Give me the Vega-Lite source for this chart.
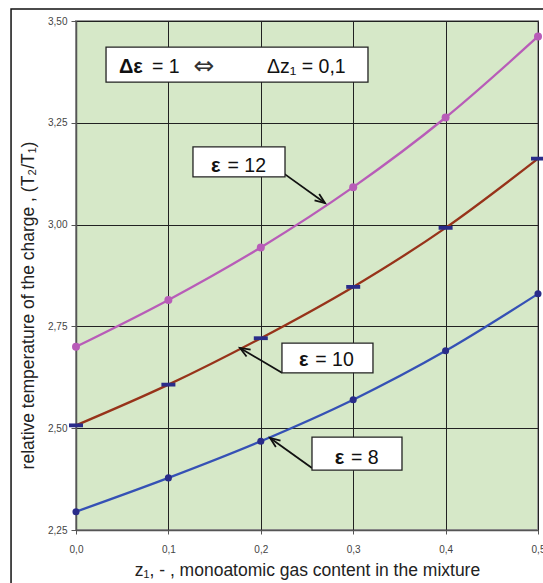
{
  "$schema": "https://vega.github.io/schema/vega-lite/v6.json",
  "width": 462,
  "height": 509,
  "autosize": {"type": "none"},
  "padding": {"left": 76, "top": 21, "right": 5, "bottom": 53},
  "background": "white",
  "config": {
    "font": "Liberation Sans",
    "view": {"fill": "#D6E8C8", "stroke": "#999999", "strokeWidth": 2}
  },
  "datasets": {
    "series": [
      {"z": 0.0, "T": 2.700, "eps": "12"},
      {"z": 0.1, "T": 2.815, "eps": "12"},
      {"z": 0.2, "T": 2.944, "eps": "12"},
      {"z": 0.3, "T": 3.092, "eps": "12"},
      {"z": 0.4, "T": 3.263, "eps": "12"},
      {"z": 0.5, "T": 3.462, "eps": "12"},
      {"z": 0.0, "T": 2.507, "eps": "10"},
      {"z": 0.1, "T": 2.607, "eps": "10"},
      {"z": 0.2, "T": 2.721, "eps": "10"},
      {"z": 0.3, "T": 2.847, "eps": "10"},
      {"z": 0.4, "T": 2.992, "eps": "10"},
      {"z": 0.5, "T": 3.162, "eps": "10"},
      {"z": 0.0, "T": 2.295, "eps": "8"},
      {"z": 0.1, "T": 2.378, "eps": "8"},
      {"z": 0.2, "T": 2.468, "eps": "8"},
      {"z": 0.3, "T": 2.570, "eps": "8"},
      {"z": 0.4, "T": 2.690, "eps": "8"},
      {"z": 0.5, "T": 2.830, "eps": "8"}
    ],
    "boxes": [
      {"x": 0.0325, "x2": 0.316, "y": 3.436, "y2": 3.350},
      {"x": 0.1266, "x2": 0.2262, "y": 3.191, "y2": 3.117},
      {"x": 0.2229, "x2": 0.3214, "y": 2.709, "y2": 2.636},
      {"x": 0.2554, "x2": 0.3528, "y": 2.478, "y2": 2.397}
    ],
    "boldText": [
      {"x": 0.0465, "y": 3.372, "text": "Δε"},
      {"x": 0.1461, "y": 3.129, "text": "ε"},
      {"x": 0.2413, "y": 2.6527, "text": "ε"},
      {"x": 0.2799, "y": 2.412, "text": "ε"}
    ],
    "plainText": [
      {"x": 0.0823, "y": 3.372, "text": "= 1"},
      {"x": 0.2067, "y": 3.372, "text": "Δz₁ = 0,1"},
      {"x": 0.1640, "y": 3.129, "text": "= 12"},
      {"x": 0.2590, "y": 2.6527, "text": "= 10"},
      {"x": 0.2975, "y": 2.412, "text": "= 8"}
    ],
    "symbolText": [
      {"x": 0.1385, "y": 3.372, "text": "⇔"}
    ],
    "arrows": [
      {"label": "12", "x": 0.224, "y": 3.127, "x2": 0.2695, "y2": 3.053},
      {"label": "10", "x": 0.2229, "y": 2.636, "x2": 0.1775, "y2": 2.697},
      {"label": "8", "x": 0.2554, "y": 2.402, "x2": 0.21, "y2": 2.476}
    ],
    "frame": [
      {"x": -0.0703, "x2": 0.6, "y": 3.5295, "y2": 2.0}
    ]
  },
  "layer": [
    {
      "data": {"name": "frame"},
      "mark": {"type": "rect", "fill": null, "fillOpacity": 0, "stroke": "#111111", "strokeWidth": 1.5, "clip": false},
      "encoding": {
        "x": {"field": "x", "type": "quantitative",
          "scale": {"domain": [0, 0.5], "nice": false, "zero": false},
          "axis": {
            "values": [0, 0.1, 0.2, 0.3, 0.4, 0.5],
            "labelExpr": "replace(format(datum.value, '.1f'), '.', ',')",
            "title": "z₁, - ,  monoatomic gas content in the mixture",
            "titleFont": "Liberation Sans", "titleFontSize": 17.5, "titleFontWeight": "normal", "titleColor": "#222222",
            "titleY": 45, "titleBaseline": "alphabetic",
            "labelFontSize": 10, "labelColor": "#444444", "labelPadding": 10, "labelFlush": false,
            "tickSize": 4, "tickColor": "#555555",
            "domainColor": "#555555", "domainWidth": 1.5,
            "grid": true, "gridColor": "#222222", "gridWidth": 1
          }},
        "x2": {"field": "x2"},
        "y": {"field": "y", "type": "quantitative",
          "scale": {"domain": [2.25, 3.5], "nice": false, "zero": false},
          "axis": {
            "values": [2.25, 2.5, 2.75, 3.0, 3.25, 3.5],
            "labelExpr": "replace(format(datum.value, '.2f'), '.', ',')",
            "title": "relative temperature  of the charge ,  (T₂/T₁)",
            "titleFont": "Liberation Sans", "titleFontSize": 17.5, "titleFontWeight": "normal", "titleColor": "#222222",
            "titleX": -48, "titleY": 284, "titleBaseline": "middle", "titleAlign": "center", "titleAngle": -90,
            "labelFontSize": 10, "labelColor": "#444444", "labelPadding": 4, "labelFlush": false,
            "tickSize": 5, "tickColor": "#555555",
            "domainColor": "#555555", "domainWidth": 1.5,
            "grid": true, "gridColor": "#222222", "gridWidth": 1
          }},
        "y2": {"field": "y2"}
      }
    },
    {
      "data": {"name": "series"},
      "mark": {"type": "line", "interpolate": "monotone", "strokeWidth": 2.3},
      "encoding": {
        "x": {"field": "z", "type": "quantitative"},
        "y": {"field": "T", "type": "quantitative"},
        "color": {"field": "eps", "type": "nominal",
          "scale": {"domain": ["8", "10", "12"], "range": ["#3551B5", "#97331A", "#B85CB8"]},
          "legend": null}
      }
    },
    {
      "data": {"name": "series"},
      "transform": [{"filter": "datum.eps == '12'"}],
      "mark": {"type": "point", "filled": true, "size": 64, "opacity": 1, "color": "#B85CB8"},
      "encoding": {
        "x": {"field": "z", "type": "quantitative"},
        "y": {"field": "T", "type": "quantitative"}
      }
    },
    {
      "data": {"name": "series"},
      "transform": [{"filter": "datum.eps == '8'"}],
      "mark": {"type": "point", "filled": true, "size": 50, "opacity": 1, "color": "#2A2C8A"},
      "encoding": {
        "x": {"field": "z", "type": "quantitative"},
        "y": {"field": "T", "type": "quantitative"}
      }
    },
    {
      "data": {"name": "series"},
      "transform": [{"filter": "datum.eps == '10'"}],
      "mark": {"type": "point", "filled": true, "size": 196, "opacity": 1, "color": "#2A2C8A",
        "shape": "M-1,-0.27H1V0.27H-1Z"},
      "encoding": {
        "x": {"field": "z", "type": "quantitative"},
        "y": {"field": "T", "type": "quantitative"}
      }
    },
    {
      "data": {"name": "arrows"},
      "mark": {"type": "rule", "color": "#111111", "strokeWidth": 1.8},
      "encoding": {
        "x": {"field": "x", "type": "quantitative"},
        "y": {"field": "y", "type": "quantitative"},
        "x2": {"field": "x2"},
        "y2": {"field": "y2"}
      }
    },
    {
      "data": {"name": "arrows"},
      "transform": [{"filter": "datum.label == '12'"}],
      "mark": {"type": "point", "filled": false, "stroke": "#111111", "strokeWidth": 1.8, "opacity": 1,
        "shape": "M-0.4,1L0,0L0.4,1", "size": 400, "angle": 125.5},
      "encoding": {
        "x": {"field": "x2", "type": "quantitative"},
        "y": {"field": "y2", "type": "quantitative"}
      }
    },
    {
      "data": {"name": "arrows"},
      "transform": [{"filter": "datum.label == '10'"}],
      "mark": {"type": "point", "filled": false, "stroke": "#111111", "strokeWidth": 1.8, "opacity": 1,
        "shape": "M-0.4,1L0,0L0.4,1", "size": 400, "angle": 300.8},
      "encoding": {
        "x": {"field": "x2", "type": "quantitative"},
        "y": {"field": "y2", "type": "quantitative"}
      }
    },
    {
      "data": {"name": "arrows"},
      "transform": [{"filter": "datum.label == '8'"}],
      "mark": {"type": "point", "filled": false, "stroke": "#111111", "strokeWidth": 1.8, "opacity": 1,
        "shape": "M-0.4,1L0,0L0.4,1", "size": 400, "angle": 305.5},
      "encoding": {
        "x": {"field": "x2", "type": "quantitative"},
        "y": {"field": "y2", "type": "quantitative"}
      }
    },
    {
      "data": {"name": "boxes"},
      "mark": {"type": "rect", "fill": "white", "stroke": "#222222", "strokeWidth": 1.3},
      "encoding": {
        "x": {"field": "x", "type": "quantitative"},
        "x2": {"field": "x2"},
        "y": {"field": "y", "type": "quantitative"},
        "y2": {"field": "y2"}
      }
    },
    {
      "data": {"name": "boldText"},
      "mark": {"type": "text", "align": "left", "baseline": "alphabetic", "fontSize": 20, "fontWeight": "bold", "color": "#111111"},
      "encoding": {
        "x": {"field": "x", "type": "quantitative"},
        "y": {"field": "y", "type": "quantitative"},
        "text": {"field": "text"}
      }
    },
    {
      "data": {"name": "plainText"},
      "mark": {"type": "text", "align": "left", "baseline": "alphabetic", "fontSize": 19.5, "color": "#111111"},
      "encoding": {
        "x": {"field": "x", "type": "quantitative"},
        "y": {"field": "y", "type": "quantitative"},
        "text": {"field": "text"}
      }
    },
    {
      "data": {"name": "symbolText"},
      "mark": {"type": "text", "align": "center", "baseline": "alphabetic", "fontSize": 25, "font": "DejaVu Sans", "color": "#333333", "dy": 1},
      "encoding": {
        "x": {"field": "x", "type": "quantitative"},
        "y": {"field": "y", "type": "quantitative"},
        "text": {"field": "text"}
      }
    }
  ]
}
